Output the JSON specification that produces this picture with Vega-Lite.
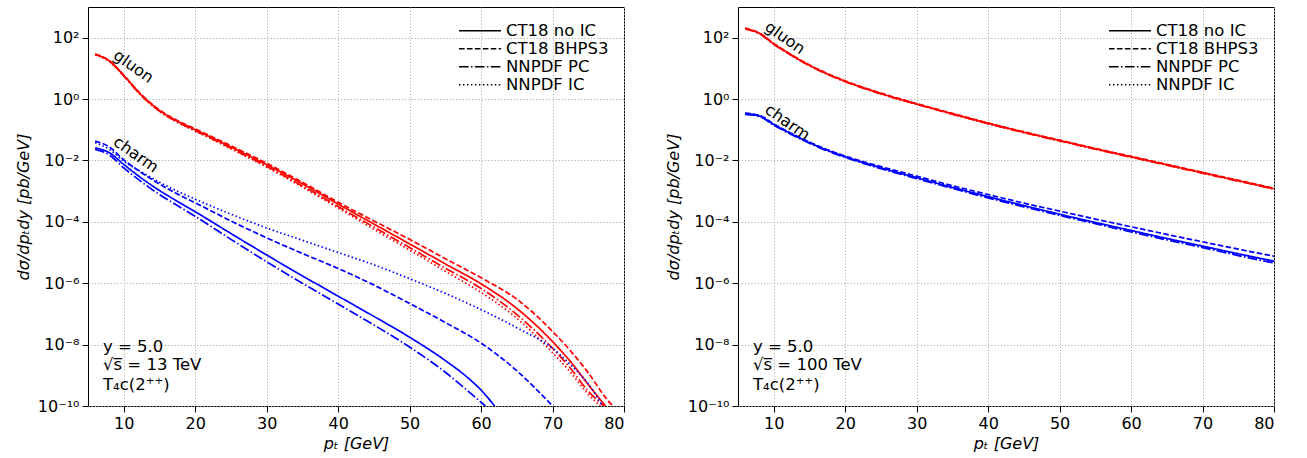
{
  "$schema": "https://vega.github.io/schema/vega-lite/v6.json",
  "padding": {"left": 14, "top": 6, "right": 5, "bottom": 5},
  "bounds": "flush",
  "spacing": 114,
  "config": {
    "font": "DejaVu Sans",
    "view": {"stroke": "black", "strokeWidth": 1},
    "axis": {
      "grid": true, "gridColor": "#b0b0b0", "gridDash": [1.2, 2], "gridWidth": 1,
      "domain": false, "tickColor": "black", "tickSize": 6, "tickWidth": 1,
      "labelFontSize": 16, "labelColor": "black", "labelFont": "DejaVu Sans", "labelPadding": 3,
      "titleFont": "DejaVu Sans", "titleFontSize": 16, "titleFontWeight": "normal",
      "titleFontStyle": "italic", "titleColor": "black"
    },
    "legend": {
      "title": null, "orient": "top-right", "offset": 15, "padding": 0,
      "symbolType": "stroke", "symbolSize": 1764, "symbolStrokeWidth": 1.6,
      "symbolStrokeColor": "black", "symbolOffset": 0,
      "labelFontSize": 16.5, "labelColor": "black", "labelFont": "DejaVu Sans", "labelOffset": 4,
      "clipHeight": 17.4, "rowPadding": 0
    }
  },
  "resolve": {"scale": {"strokeDash": "independent", "color": "independent"}, "legend": {"strokeDash": "independent"}},
  "datasets": {
    "lhc": [
      {"pt":6,"xs":28.8,"parton":"gluon","pdf":"CT18 no IC"},{"pt":8,"xs":17.4,"parton":"gluon","pdf":"CT18 no IC"},{"pt":10,"xs":5.89,"parton":"gluon","pdf":"CT18 no IC"},{"pt":12.5,"xs":1.32,"parton":"gluon","pdf":"CT18 no IC"},{"pt":15,"xs":0.427,"parton":"gluon","pdf":"CT18 no IC"},{"pt":17.5,"xs":0.191,"parton":"gluon","pdf":"CT18 no IC"},{"pt":20,"xs":0.1,"parton":"gluon","pdf":"CT18 no IC"},{"pt":25,"xs":0.0275,"parton":"gluon","pdf":"CT18 no IC"},{"pt":30,"xs":7.24e-3,"parton":"gluon","pdf":"CT18 no IC"},{"pt":35,"xs":1.74e-3,"parton":"gluon","pdf":"CT18 no IC"},{"pt":40,"xs":3.80e-4,"parton":"gluon","pdf":"CT18 no IC"},{"pt":45,"xs":8.51e-5,"parton":"gluon","pdf":"CT18 no IC"},{"pt":50,"xs":1.91e-5,"parton":"gluon","pdf":"CT18 no IC"},{"pt":55,"xs":4.27e-6,"parton":"gluon","pdf":"CT18 no IC"},{"pt":60,"xs":9.55e-7,"parton":"gluon","pdf":"CT18 no IC"},{"pt":65,"xs":1.51e-7,"parton":"gluon","pdf":"CT18 no IC"},{"pt":70,"xs":1.26e-8,"parton":"gluon","pdf":"CT18 no IC"},{"pt":72.5,"xs":2.82e-9,"parton":"gluon","pdf":"CT18 no IC"},{"pt":75,"xs":5.01e-10,"parton":"gluon","pdf":"CT18 no IC"},{"pt":77.4,"xs":1e-10,"parton":"gluon","pdf":"CT18 no IC"},
      {"pt":6,"xs":29.5,"parton":"gluon","pdf":"CT18 BHPS3"},{"pt":8,"xs":17.8,"parton":"gluon","pdf":"CT18 BHPS3"},{"pt":10,"xs":6.03,"parton":"gluon","pdf":"CT18 BHPS3"},{"pt":12.5,"xs":1.38,"parton":"gluon","pdf":"CT18 BHPS3"},{"pt":15,"xs":0.447,"parton":"gluon","pdf":"CT18 BHPS3"},{"pt":17.5,"xs":0.2,"parton":"gluon","pdf":"CT18 BHPS3"},{"pt":20,"xs":0.107,"parton":"gluon","pdf":"CT18 BHPS3"},{"pt":25,"xs":0.0302,"parton":"gluon","pdf":"CT18 BHPS3"},{"pt":30,"xs":8.13e-3,"parton":"gluon","pdf":"CT18 BHPS3"},{"pt":35,"xs":1.95e-3,"parton":"gluon","pdf":"CT18 BHPS3"},{"pt":40,"xs":4.37e-4,"parton":"gluon","pdf":"CT18 BHPS3"},{"pt":45,"xs":1.07e-4,"parton":"gluon","pdf":"CT18 BHPS3"},{"pt":50,"xs":2.69e-5,"parton":"gluon","pdf":"CT18 BHPS3"},{"pt":55,"xs":6.31e-6,"parton":"gluon","pdf":"CT18 BHPS3"},{"pt":60,"xs":1.51e-6,"parton":"gluon","pdf":"CT18 BHPS3"},{"pt":65,"xs":3.02e-7,"parton":"gluon","pdf":"CT18 BHPS3"},{"pt":70,"xs":2.69e-8,"parton":"gluon","pdf":"CT18 BHPS3"},{"pt":72.5,"xs":6.31e-9,"parton":"gluon","pdf":"CT18 BHPS3"},{"pt":75,"xs":1.20e-9,"parton":"gluon","pdf":"CT18 BHPS3"},{"pt":77.5,"xs":1.78e-10,"parton":"gluon","pdf":"CT18 BHPS3"},{"pt":78.4,"xs":1e-10,"parton":"gluon","pdf":"CT18 BHPS3"},
      {"pt":6,"xs":28.2,"parton":"gluon","pdf":"NNPDF PC"},{"pt":8,"xs":17.0,"parton":"gluon","pdf":"NNPDF PC"},{"pt":10,"xs":5.75,"parton":"gluon","pdf":"NNPDF PC"},{"pt":12.5,"xs":1.29,"parton":"gluon","pdf":"NNPDF PC"},{"pt":15,"xs":0.407,"parton":"gluon","pdf":"NNPDF PC"},{"pt":17.5,"xs":0.178,"parton":"gluon","pdf":"NNPDF PC"},{"pt":20,"xs":0.0933,"parton":"gluon","pdf":"NNPDF PC"},{"pt":25,"xs":0.0251,"parton":"gluon","pdf":"NNPDF PC"},{"pt":30,"xs":6.46e-3,"parton":"gluon","pdf":"NNPDF PC"},{"pt":35,"xs":1.48e-3,"parton":"gluon","pdf":"NNPDF PC"},{"pt":40,"xs":3.16e-4,"parton":"gluon","pdf":"NNPDF PC"},{"pt":45,"xs":6.76e-5,"parton":"gluon","pdf":"NNPDF PC"},{"pt":50,"xs":1.45e-5,"parton":"gluon","pdf":"NNPDF PC"},{"pt":55,"xs":3.09e-6,"parton":"gluon","pdf":"NNPDF PC"},{"pt":60,"xs":6.76e-7,"parton":"gluon","pdf":"NNPDF PC"},{"pt":65,"xs":9.55e-8,"parton":"gluon","pdf":"NNPDF PC"},{"pt":70,"xs":7.59e-9,"parton":"gluon","pdf":"NNPDF PC"},{"pt":72.5,"xs":1.70e-9,"parton":"gluon","pdf":"NNPDF PC"},{"pt":75,"xs":3.02e-10,"parton":"gluon","pdf":"NNPDF PC"},{"pt":77.2,"xs":1e-10,"parton":"gluon","pdf":"NNPDF PC"},
      {"pt":6,"xs":28.2,"parton":"gluon","pdf":"NNPDF IC"},{"pt":8,"xs":16.6,"parton":"gluon","pdf":"NNPDF IC"},{"pt":10,"xs":5.62,"parton":"gluon","pdf":"NNPDF IC"},{"pt":12.5,"xs":1.26,"parton":"gluon","pdf":"NNPDF IC"},{"pt":15,"xs":0.398,"parton":"gluon","pdf":"NNPDF IC"},{"pt":17.5,"xs":0.174,"parton":"gluon","pdf":"NNPDF IC"},{"pt":20,"xs":0.0912,"parton":"gluon","pdf":"NNPDF IC"},{"pt":25,"xs":0.0240,"parton":"gluon","pdf":"NNPDF IC"},{"pt":30,"xs":6.03e-3,"parton":"gluon","pdf":"NNPDF IC"},{"pt":35,"xs":1.35e-3,"parton":"gluon","pdf":"NNPDF IC"},{"pt":40,"xs":2.82e-4,"parton":"gluon","pdf":"NNPDF IC"},{"pt":45,"xs":5.75e-5,"parton":"gluon","pdf":"NNPDF IC"},{"pt":50,"xs":1.20e-5,"parton":"gluon","pdf":"NNPDF IC"},{"pt":55,"xs":2.45e-6,"parton":"gluon","pdf":"NNPDF IC"},{"pt":60,"xs":5.01e-7,"parton":"gluon","pdf":"NNPDF IC"},{"pt":65,"xs":7.24e-8,"parton":"gluon","pdf":"NNPDF IC"},{"pt":70,"xs":5.50e-9,"parton":"gluon","pdf":"NNPDF IC"},{"pt":72.5,"xs":1.26e-9,"parton":"gluon","pdf":"NNPDF IC"},{"pt":75,"xs":2.40e-10,"parton":"gluon","pdf":"NNPDF IC"},{"pt":76.7,"xs":1e-10,"parton":"gluon","pdf":"NNPDF IC"},
      {"pt":6,"xs":0.0257,"parton":"charm","pdf":"CT18 no IC"},{"pt":8,"xs":0.0178,"parton":"charm","pdf":"CT18 no IC"},{"pt":10,"xs":7.41e-3,"parton":"charm","pdf":"CT18 no IC"},{"pt":12.5,"xs":2.63e-3,"parton":"charm","pdf":"CT18 no IC"},{"pt":15,"xs":1.05e-3,"parton":"charm","pdf":"CT18 no IC"},{"pt":17.5,"xs":4.68e-4,"parton":"charm","pdf":"CT18 no IC"},{"pt":20,"xs":2.14e-4,"parton":"charm","pdf":"CT18 no IC"},{"pt":25,"xs":4.17e-5,"parton":"charm","pdf":"CT18 no IC"},{"pt":30,"xs":8.32e-6,"parton":"charm","pdf":"CT18 no IC"},{"pt":35,"xs":1.74e-6,"parton":"charm","pdf":"CT18 no IC"},{"pt":40,"xs":3.80e-7,"parton":"charm","pdf":"CT18 no IC"},{"pt":45,"xs":8.32e-8,"parton":"charm","pdf":"CT18 no IC"},{"pt":50,"xs":1.74e-8,"parton":"charm","pdf":"CT18 no IC"},{"pt":55,"xs":3.02e-9,"parton":"charm","pdf":"CT18 no IC"},{"pt":58,"xs":8.91e-10,"parton":"charm","pdf":"CT18 no IC"},{"pt":60,"xs":3.31e-10,"parton":"charm","pdf":"CT18 no IC"},{"pt":61.9,"xs":1e-10,"parton":"charm","pdf":"CT18 no IC"},
      {"pt":6,"xs":0.0427,"parton":"charm","pdf":"CT18 BHPS3"},{"pt":8,"xs":0.0275,"parton":"charm","pdf":"CT18 BHPS3"},{"pt":10,"xs":0.0105,"parton":"charm","pdf":"CT18 BHPS3"},{"pt":12.5,"xs":3.98e-3,"parton":"charm","pdf":"CT18 BHPS3"},{"pt":15,"xs":1.70e-3,"parton":"charm","pdf":"CT18 BHPS3"},{"pt":17.5,"xs":8.13e-4,"parton":"charm","pdf":"CT18 BHPS3"},{"pt":20,"xs":4.17e-4,"parton":"charm","pdf":"CT18 BHPS3"},{"pt":25,"xs":1.07e-4,"parton":"charm","pdf":"CT18 BHPS3"},{"pt":30,"xs":3.02e-5,"parton":"charm","pdf":"CT18 BHPS3"},{"pt":35,"xs":9.33e-6,"parton":"charm","pdf":"CT18 BHPS3"},{"pt":40,"xs":3.02e-6,"parton":"charm","pdf":"CT18 BHPS3"},{"pt":45,"xs":8.71e-7,"parton":"charm","pdf":"CT18 BHPS3"},{"pt":50,"xs":2.19e-7,"parton":"charm","pdf":"CT18 BHPS3"},{"pt":55,"xs":5.25e-8,"parton":"charm","pdf":"CT18 BHPS3"},{"pt":60,"xs":1.12e-8,"parton":"charm","pdf":"CT18 BHPS3"},{"pt":65,"xs":1.41e-9,"parton":"charm","pdf":"CT18 BHPS3"},{"pt":70,"xs":1e-10,"parton":"charm","pdf":"CT18 BHPS3"},
      {"pt":6,"xs":0.0229,"parton":"charm","pdf":"NNPDF PC"},{"pt":8,"xs":0.0151,"parton":"charm","pdf":"NNPDF PC"},{"pt":10,"xs":5.75e-3,"parton":"charm","pdf":"NNPDF PC"},{"pt":12.5,"xs":2.0e-3,"parton":"charm","pdf":"NNPDF PC"},{"pt":15,"xs":7.76e-4,"parton":"charm","pdf":"NNPDF PC"},{"pt":17.5,"xs":3.39e-4,"parton":"charm","pdf":"NNPDF PC"},{"pt":20,"xs":1.51e-4,"parton":"charm","pdf":"NNPDF PC"},{"pt":25,"xs":2.69e-5,"parton":"charm","pdf":"NNPDF PC"},{"pt":30,"xs":5.01e-6,"parton":"charm","pdf":"NNPDF PC"},{"pt":35,"xs":1.0e-6,"parton":"charm","pdf":"NNPDF PC"},{"pt":40,"xs":2.09e-7,"parton":"charm","pdf":"NNPDF PC"},{"pt":45,"xs":4.37e-8,"parton":"charm","pdf":"NNPDF PC"},{"pt":50,"xs":8.32e-9,"parton":"charm","pdf":"NNPDF PC"},{"pt":55,"xs":1.26e-9,"parton":"charm","pdf":"NNPDF PC"},{"pt":58,"xs":3.31e-10,"parton":"charm","pdf":"NNPDF PC"},{"pt":60.6,"xs":1e-10,"parton":"charm","pdf":"NNPDF PC"},
      {"pt":6,"xs":0.038,"parton":"charm","pdf":"NNPDF IC"},{"pt":8,"xs":0.0229,"parton":"charm","pdf":"NNPDF IC"},{"pt":10,"xs":9.55e-3,"parton":"charm","pdf":"NNPDF IC"},{"pt":12.5,"xs":4.17e-3,"parton":"charm","pdf":"NNPDF IC"},{"pt":15,"xs":1.95e-3,"parton":"charm","pdf":"NNPDF IC"},{"pt":17.5,"xs":1.0e-3,"parton":"charm","pdf":"NNPDF IC"},{"pt":20,"xs":5.50e-4,"parton":"charm","pdf":"NNPDF IC"},{"pt":25,"xs":1.78e-4,"parton":"charm","pdf":"NNPDF IC"},{"pt":30,"xs":6.31e-5,"parton":"charm","pdf":"NNPDF IC"},{"pt":35,"xs":2.51e-5,"parton":"charm","pdf":"NNPDF IC"},{"pt":40,"xs":1.0e-5,"parton":"charm","pdf":"NNPDF IC"},{"pt":45,"xs":3.98e-6,"parton":"charm","pdf":"NNPDF IC"},{"pt":50,"xs":1.41e-6,"parton":"charm","pdf":"NNPDF IC"},{"pt":55,"xs":4.68e-7,"parton":"charm","pdf":"NNPDF IC"},{"pt":60,"xs":1.38e-7,"parton":"charm","pdf":"NNPDF IC"},{"pt":65,"xs":3.55e-8,"parton":"charm","pdf":"NNPDF IC"},{"pt":70,"xs":7.59e-9,"parton":"charm","pdf":"NNPDF IC"},{"pt":72.5,"xs":2.24e-9,"parton":"charm","pdf":"NNPDF IC"},{"pt":75,"xs":5.25e-10,"parton":"charm","pdf":"NNPDF IC"},{"pt":77.0,"xs":1e-10,"parton":"charm","pdf":"NNPDF IC"}
    ],
    "fcc": [
      {"pt":6,"xs":200,"parton":"gluon","pdf":"CT18 no IC"},{"pt":8,"xs":138,"parton":"gluon","pdf":"CT18 no IC"},{"pt":10,"xs":63.1,"parton":"gluon","pdf":"CT18 no IC"},{"pt":12.5,"xs":26.9,"parton":"gluon","pdf":"CT18 no IC"},{"pt":15,"xs":12.6,"parton":"gluon","pdf":"CT18 no IC"},{"pt":17.5,"xs":6.61,"parton":"gluon","pdf":"CT18 no IC"},{"pt":20,"xs":3.80,"parton":"gluon","pdf":"CT18 no IC"},{"pt":25,"xs":1.51,"parton":"gluon","pdf":"CT18 no IC"},{"pt":30,"xs":0.692,"parton":"gluon","pdf":"CT18 no IC"},{"pt":35,"xs":0.331,"parton":"gluon","pdf":"CT18 no IC"},{"pt":40,"xs":0.162,"parton":"gluon","pdf":"CT18 no IC"},{"pt":45,"xs":0.0832,"parton":"gluon","pdf":"CT18 no IC"},{"pt":50,"xs":0.0447,"parton":"gluon","pdf":"CT18 no IC"},{"pt":55,"xs":0.024,"parton":"gluon","pdf":"CT18 no IC"},{"pt":60,"xs":0.0132,"parton":"gluon","pdf":"CT18 no IC"},{"pt":65,"xs":0.00724,"parton":"gluon","pdf":"CT18 no IC"},{"pt":70,"xs":0.00398,"parton":"gluon","pdf":"CT18 no IC"},{"pt":75,"xs":0.00219,"parton":"gluon","pdf":"CT18 no IC"},{"pt":80,"xs":0.0012,"parton":"gluon","pdf":"CT18 no IC"},
      {"pt":6,"xs":206,"parton":"gluon","pdf":"CT18 BHPS3"},{"pt":8,"xs":142,"parton":"gluon","pdf":"CT18 BHPS3"},{"pt":10,"xs":65,"parton":"gluon","pdf":"CT18 BHPS3"},{"pt":12.5,"xs":27.7,"parton":"gluon","pdf":"CT18 BHPS3"},{"pt":15,"xs":13.0,"parton":"gluon","pdf":"CT18 BHPS3"},{"pt":17.5,"xs":6.81,"parton":"gluon","pdf":"CT18 BHPS3"},{"pt":20,"xs":3.91,"parton":"gluon","pdf":"CT18 BHPS3"},{"pt":25,"xs":1.56,"parton":"gluon","pdf":"CT18 BHPS3"},{"pt":30,"xs":0.713,"parton":"gluon","pdf":"CT18 BHPS3"},{"pt":35,"xs":0.341,"parton":"gluon","pdf":"CT18 BHPS3"},{"pt":40,"xs":0.167,"parton":"gluon","pdf":"CT18 BHPS3"},{"pt":45,"xs":0.0857,"parton":"gluon","pdf":"CT18 BHPS3"},{"pt":50,"xs":0.046,"parton":"gluon","pdf":"CT18 BHPS3"},{"pt":55,"xs":0.0247,"parton":"gluon","pdf":"CT18 BHPS3"},{"pt":60,"xs":0.0136,"parton":"gluon","pdf":"CT18 BHPS3"},{"pt":65,"xs":0.00746,"parton":"gluon","pdf":"CT18 BHPS3"},{"pt":70,"xs":0.0041,"parton":"gluon","pdf":"CT18 BHPS3"},{"pt":75,"xs":0.00226,"parton":"gluon","pdf":"CT18 BHPS3"},{"pt":80,"xs":0.00124,"parton":"gluon","pdf":"CT18 BHPS3"},
      {"pt":6,"xs":194,"parton":"gluon","pdf":"NNPDF PC"},{"pt":8,"xs":134,"parton":"gluon","pdf":"NNPDF PC"},{"pt":10,"xs":61.2,"parton":"gluon","pdf":"NNPDF PC"},{"pt":12.5,"xs":26.1,"parton":"gluon","pdf":"NNPDF PC"},{"pt":15,"xs":12.2,"parton":"gluon","pdf":"NNPDF PC"},{"pt":17.5,"xs":6.41,"parton":"gluon","pdf":"NNPDF PC"},{"pt":20,"xs":3.69,"parton":"gluon","pdf":"NNPDF PC"},{"pt":25,"xs":1.46,"parton":"gluon","pdf":"NNPDF PC"},{"pt":30,"xs":0.671,"parton":"gluon","pdf":"NNPDF PC"},{"pt":35,"xs":0.321,"parton":"gluon","pdf":"NNPDF PC"},{"pt":40,"xs":0.157,"parton":"gluon","pdf":"NNPDF PC"},{"pt":45,"xs":0.0807,"parton":"gluon","pdf":"NNPDF PC"},{"pt":50,"xs":0.0434,"parton":"gluon","pdf":"NNPDF PC"},{"pt":55,"xs":0.0233,"parton":"gluon","pdf":"NNPDF PC"},{"pt":60,"xs":0.0128,"parton":"gluon","pdf":"NNPDF PC"},{"pt":65,"xs":0.00702,"parton":"gluon","pdf":"NNPDF PC"},{"pt":70,"xs":0.00386,"parton":"gluon","pdf":"NNPDF PC"},{"pt":75,"xs":0.00212,"parton":"gluon","pdf":"NNPDF PC"},{"pt":80,"xs":0.00116,"parton":"gluon","pdf":"NNPDF PC"},
      {"pt":6,"xs":197,"parton":"gluon","pdf":"NNPDF IC"},{"pt":8,"xs":136,"parton":"gluon","pdf":"NNPDF IC"},{"pt":10,"xs":62.2,"parton":"gluon","pdf":"NNPDF IC"},{"pt":12.5,"xs":26.5,"parton":"gluon","pdf":"NNPDF IC"},{"pt":15,"xs":12.4,"parton":"gluon","pdf":"NNPDF IC"},{"pt":17.5,"xs":6.51,"parton":"gluon","pdf":"NNPDF IC"},{"pt":20,"xs":3.74,"parton":"gluon","pdf":"NNPDF IC"},{"pt":25,"xs":1.49,"parton":"gluon","pdf":"NNPDF IC"},{"pt":30,"xs":0.682,"parton":"gluon","pdf":"NNPDF IC"},{"pt":35,"xs":0.326,"parton":"gluon","pdf":"NNPDF IC"},{"pt":40,"xs":0.16,"parton":"gluon","pdf":"NNPDF IC"},{"pt":45,"xs":0.082,"parton":"gluon","pdf":"NNPDF IC"},{"pt":50,"xs":0.044,"parton":"gluon","pdf":"NNPDF IC"},{"pt":55,"xs":0.0236,"parton":"gluon","pdf":"NNPDF IC"},{"pt":60,"xs":0.013,"parton":"gluon","pdf":"NNPDF IC"},{"pt":65,"xs":0.00713,"parton":"gluon","pdf":"NNPDF IC"},{"pt":70,"xs":0.00392,"parton":"gluon","pdf":"NNPDF IC"},{"pt":75,"xs":0.00216,"parton":"gluon","pdf":"NNPDF IC"},{"pt":80,"xs":0.00118,"parton":"gluon","pdf":"NNPDF IC"},
      {"pt":6,"xs":0.331,"parton":"charm","pdf":"CT18 no IC"},{"pt":8,"xs":0.282,"parton":"charm","pdf":"CT18 no IC"},{"pt":10,"xs":0.148,"parton":"charm","pdf":"CT18 no IC"},{"pt":12.5,"xs":0.0724,"parton":"charm","pdf":"CT18 no IC"},{"pt":15,"xs":0.038,"parton":"charm","pdf":"CT18 no IC"},{"pt":17.5,"xs":0.0214,"parton":"charm","pdf":"CT18 no IC"},{"pt":20,"xs":0.0132,"parton":"charm","pdf":"CT18 no IC"},{"pt":25,"xs":0.00575,"parton":"charm","pdf":"CT18 no IC"},{"pt":30,"xs":0.00275,"parton":"charm","pdf":"CT18 no IC"},{"pt":35,"xs":0.00132,"parton":"charm","pdf":"CT18 no IC"},{"pt":40,"xs":6.61e-4,"parton":"charm","pdf":"CT18 no IC"},{"pt":45,"xs":3.39e-4,"parton":"charm","pdf":"CT18 no IC"},{"pt":50,"xs":1.78e-4,"parton":"charm","pdf":"CT18 no IC"},{"pt":55,"xs":9.55e-5,"parton":"charm","pdf":"CT18 no IC"},{"pt":60,"xs":5.25e-5,"parton":"charm","pdf":"CT18 no IC"},{"pt":65,"xs":2.88e-5,"parton":"charm","pdf":"CT18 no IC"},{"pt":70,"xs":1.62e-5,"parton":"charm","pdf":"CT18 no IC"},{"pt":75,"xs":9.12e-6,"parton":"charm","pdf":"CT18 no IC"},{"pt":80,"xs":5.25e-6,"parton":"charm","pdf":"CT18 no IC"},
      {"pt":6,"xs":0.347,"parton":"charm","pdf":"CT18 BHPS3"},{"pt":8,"xs":0.295,"parton":"charm","pdf":"CT18 BHPS3"},{"pt":10,"xs":0.155,"parton":"charm","pdf":"CT18 BHPS3"},{"pt":12.5,"xs":0.0759,"parton":"charm","pdf":"CT18 BHPS3"},{"pt":15,"xs":0.0398,"parton":"charm","pdf":"CT18 BHPS3"},{"pt":17.5,"xs":0.0224,"parton":"charm","pdf":"CT18 BHPS3"},{"pt":20,"xs":0.0138,"parton":"charm","pdf":"CT18 BHPS3"},{"pt":25,"xs":0.00631,"parton":"charm","pdf":"CT18 BHPS3"},{"pt":30,"xs":0.00309,"parton":"charm","pdf":"CT18 BHPS3"},{"pt":35,"xs":0.00151,"parton":"charm","pdf":"CT18 BHPS3"},{"pt":40,"xs":7.76e-4,"parton":"charm","pdf":"CT18 BHPS3"},{"pt":45,"xs":4.07e-4,"parton":"charm","pdf":"CT18 BHPS3"},{"pt":50,"xs":2.24e-4,"parton":"charm","pdf":"CT18 BHPS3"},{"pt":55,"xs":1.23e-4,"parton":"charm","pdf":"CT18 BHPS3"},{"pt":60,"xs":6.92e-5,"parton":"charm","pdf":"CT18 BHPS3"},{"pt":65,"xs":3.89e-5,"parton":"charm","pdf":"CT18 BHPS3"},{"pt":70,"xs":2.24e-5,"parton":"charm","pdf":"CT18 BHPS3"},{"pt":75,"xs":1.29e-5,"parton":"charm","pdf":"CT18 BHPS3"},{"pt":80,"xs":7.59e-6,"parton":"charm","pdf":"CT18 BHPS3"},
      {"pt":6,"xs":0.316,"parton":"charm","pdf":"NNPDF PC"},{"pt":8,"xs":0.269,"parton":"charm","pdf":"NNPDF PC"},{"pt":10,"xs":0.141,"parton":"charm","pdf":"NNPDF PC"},{"pt":12.5,"xs":0.0692,"parton":"charm","pdf":"NNPDF PC"},{"pt":15,"xs":0.0363,"parton":"charm","pdf":"NNPDF PC"},{"pt":17.5,"xs":0.0204,"parton":"charm","pdf":"NNPDF PC"},{"pt":20,"xs":0.0126,"parton":"charm","pdf":"NNPDF PC"},{"pt":25,"xs":0.00537,"parton":"charm","pdf":"NNPDF PC"},{"pt":30,"xs":0.00257,"parton":"charm","pdf":"NNPDF PC"},{"pt":35,"xs":0.00123,"parton":"charm","pdf":"NNPDF PC"},{"pt":40,"xs":6.03e-4,"parton":"charm","pdf":"NNPDF PC"},{"pt":45,"xs":3.09e-4,"parton":"charm","pdf":"NNPDF PC"},{"pt":50,"xs":1.62e-4,"parton":"charm","pdf":"NNPDF PC"},{"pt":55,"xs":8.71e-5,"parton":"charm","pdf":"NNPDF PC"},{"pt":60,"xs":4.68e-5,"parton":"charm","pdf":"NNPDF PC"},{"pt":65,"xs":2.57e-5,"parton":"charm","pdf":"NNPDF PC"},{"pt":70,"xs":1.45e-5,"parton":"charm","pdf":"NNPDF PC"},{"pt":75,"xs":7.94e-6,"parton":"charm","pdf":"NNPDF PC"},{"pt":80,"xs":4.57e-6,"parton":"charm","pdf":"NNPDF PC"},
      {"pt":6,"xs":0.339,"parton":"charm","pdf":"NNPDF IC"},{"pt":8,"xs":0.288,"parton":"charm","pdf":"NNPDF IC"},{"pt":10,"xs":0.151,"parton":"charm","pdf":"NNPDF IC"},{"pt":12.5,"xs":0.0741,"parton":"charm","pdf":"NNPDF IC"},{"pt":15,"xs":0.0389,"parton":"charm","pdf":"NNPDF IC"},{"pt":17.5,"xs":0.0219,"parton":"charm","pdf":"NNPDF IC"},{"pt":20,"xs":0.0135,"parton":"charm","pdf":"NNPDF IC"},{"pt":25,"xs":0.00575,"parton":"charm","pdf":"NNPDF IC"},{"pt":30,"xs":0.00275,"parton":"charm","pdf":"NNPDF IC"},{"pt":35,"xs":0.00132,"parton":"charm","pdf":"NNPDF IC"},{"pt":40,"xs":6.31e-4,"parton":"charm","pdf":"NNPDF IC"},{"pt":45,"xs":3.24e-4,"parton":"charm","pdf":"NNPDF IC"},{"pt":50,"xs":1.70e-4,"parton":"charm","pdf":"NNPDF IC"},{"pt":55,"xs":9.12e-5,"parton":"charm","pdf":"NNPDF IC"},{"pt":60,"xs":5.01e-5,"parton":"charm","pdf":"NNPDF IC"},{"pt":65,"xs":2.75e-5,"parton":"charm","pdf":"NNPDF IC"},{"pt":70,"xs":1.55e-5,"parton":"charm","pdf":"NNPDF IC"},{"pt":75,"xs":8.71e-6,"parton":"charm","pdf":"NNPDF IC"},{"pt":80,"xs":5.01e-6,"parton":"charm","pdf":"NNPDF IC"}
    ],
    "lab13": [{"pt":8.4,"xs":22,"lab":"gluon"},{"pt":8.4,"xs":0.034,"lab":"charm"}],
    "lab100": [{"pt":8.6,"xs":190,"lab":"gluon"},{"pt":8.6,"xs":0.38,"lab":"charm"}],
    "ann13": [{"pt":7.1,"xs":8.1e-9,"lab":"y = 5.0"},{"pt":7.1,"xs":2.14e-9,"lab":"√s̅ = 13 TeV"},{"pt":7.1,"xs":4.68e-10,"lab":"T₄c(2⁺⁺)"}],
    "ann100": [{"pt":7.1,"xs":8.1e-9,"lab":"y = 5.0"},{"pt":7.1,"xs":2.14e-9,"lab":"√s̅ = 100 TeV"},{"pt":7.1,"xs":4.68e-10,"lab":"T₄c(2⁺⁺)"}]
  },
  "hconcat": [
    {
      "width": 536, "height": 399,
      "encoding": {
        "x": {"field": "pt", "type": "quantitative", "scale": {"domain": [5, 80], "nice": false, "zero": false},
              "axis": {"values": [10, 20, 30, 40, 50, 60, 70, 80], "title": "pₜ [GeV]", "titlePadding": 4}},
        "y": {"field": "xs", "type": "quantitative", "scale": {"type": "log", "domain": [1e-10, 1000], "nice": false},
              "axis": {"values": [1e-10, 1e-8, 1e-6, 1e-4, 0.01, 1, 100], "title": "dσ/dpₜdy [pb/GeV]", "titlePadding": 6,
                       "labelExpr": "['10⁻¹⁰','','10⁻⁸','','10⁻⁶','','10⁻⁴','','10⁻²','','10⁰','','10²'][round(log(datum.value)/LN10)+10]"}}
      },
      "layer": [
        {
          "data": {"name": "lhc"},
          "mark": {"type": "line", "strokeWidth": 1.7, "clip": true, "interpolate": "monotone"},
          "encoding": {
            "color": {"field": "parton", "type": "nominal", "scale": {"domain": ["gluon", "charm"], "range": ["#ff0000", "#0000ff"]}, "legend": null},
            "strokeDash": {"field": "pdf", "type": "nominal",
              "scale": {"domain": ["CT18 no IC", "CT18 BHPS3", "NNPDF PC", "NNPDF IC"], "range": [[1, 0], [5.55, 2.4], [9.6, 2.4, 1.5, 2.4], [1.5, 2.475]]},
              "legend": {"title": null}}
          }
        },
        {
          "data": {"name": "lab13"},
          "mark": {"type": "text", "angle": 35, "align": "left", "baseline": "alphabetic", "fontSize": 16, "color": "black"},
          "encoding": {"text": {"field": "lab"}}
        },
        {
          "data": {"name": "ann13"},
          "mark": {"type": "text", "align": "left", "baseline": "middle", "fontSize": 16.5, "color": "black"},
          "encoding": {"text": {"field": "lab"}}
        }
      ]
    },
    {
      "width": 536, "height": 399,
      "encoding": {
        "x": {"field": "pt", "type": "quantitative", "scale": {"domain": [5, 80], "nice": false, "zero": false},
              "axis": {"values": [10, 20, 30, 40, 50, 60, 70, 80], "title": "pₜ [GeV]", "titlePadding": 4}},
        "y": {"field": "xs", "type": "quantitative", "scale": {"type": "log", "domain": [1e-10, 1000], "nice": false},
              "axis": {"values": [1e-10, 1e-8, 1e-6, 1e-4, 0.01, 1, 100], "title": "dσ/dpₜdy [pb/GeV]", "titlePadding": 6,
                       "labelExpr": "['10⁻¹⁰','','10⁻⁸','','10⁻⁶','','10⁻⁴','','10⁻²','','10⁰','','10²'][round(log(datum.value)/LN10)+10]"}}
      },
      "layer": [
        {
          "data": {"name": "fcc"},
          "mark": {"type": "line", "strokeWidth": 1.7, "clip": true, "interpolate": "monotone"},
          "encoding": {
            "color": {"field": "parton", "type": "nominal", "scale": {"domain": ["gluon", "charm"], "range": ["#ff0000", "#0000ff"]}, "legend": null},
            "strokeDash": {"field": "pdf", "type": "nominal",
              "scale": {"domain": ["CT18 no IC", "CT18 BHPS3", "NNPDF PC", "NNPDF IC"], "range": [[1, 0], [5.55, 2.4], [9.6, 2.4, 1.5, 2.4], [1.5, 2.475]]},
              "legend": {"title": null}}
          }
        },
        {
          "data": {"name": "lab100"},
          "mark": {"type": "text", "angle": 35, "align": "left", "baseline": "alphabetic", "fontSize": 16, "color": "black"},
          "encoding": {"text": {"field": "lab"}}
        },
        {
          "data": {"name": "ann100"},
          "mark": {"type": "text", "align": "left", "baseline": "middle", "fontSize": 16.5, "color": "black"},
          "encoding": {"text": {"field": "lab"}}
        }
      ]
    }
  ]
}
